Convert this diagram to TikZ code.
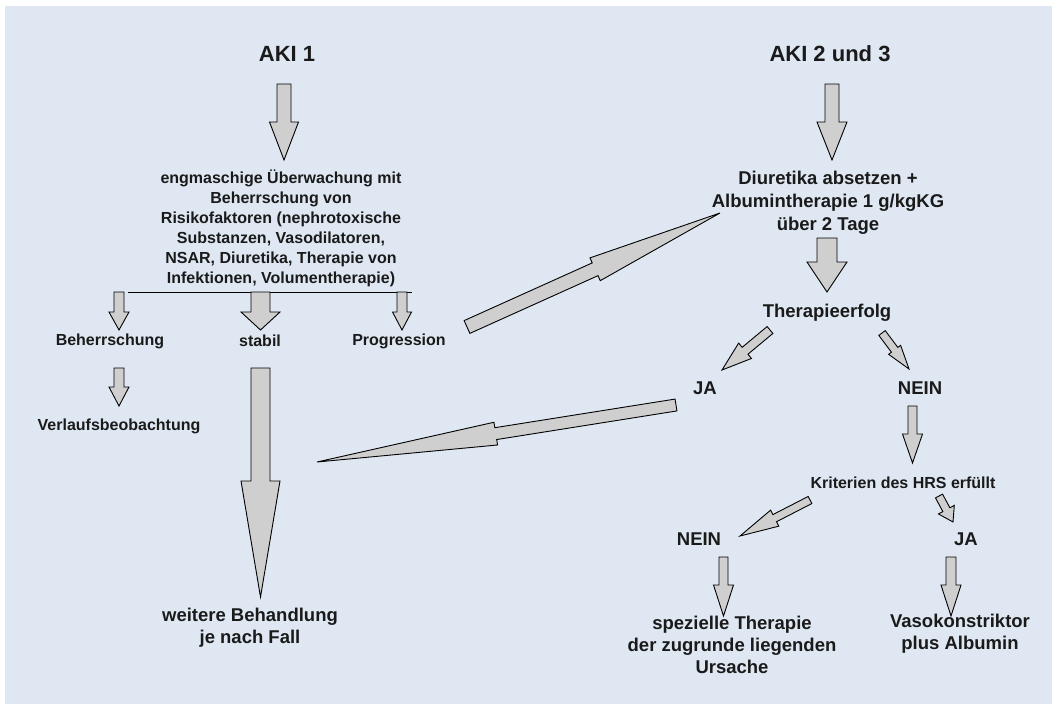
\documentclass[tikz,border=0pt]{standalone}
\usepackage{fontspec}
\setmainfont{Liberation Sans}
\usepackage{tikz}
\usetikzlibrary{calc}
\definecolor{bgblue}{RGB}{223,232,242}
\definecolor{arrowgray}{RGB}{207,207,207}
\definecolor{textblack}{RGB}{26,26,26}
\newcommand{\blockarrow}[5]{%
  \coordinate (ba-base) at ($(#2)!#5!(#1)$);
  \draw[fatarrow] ($(#1)!#3!90:(#2)$) -- ($(ba-base)!#3!90:(#2)$) -- ($(ba-base)!#4!90:(#2)$) -- (#2)
    -- ($(ba-base)!#4!-90:(#2)$) -- ($(ba-base)!#3!-90:(#2)$) -- ($(#1)!#3!-90:(#2)$) -- cycle;
}
\tikzset{
  lbl/.style={font=\bfseries\fontsize{18.5}{22}\selectfont, text=textblack, inner sep=0pt, align=center},
  lblwide/.style={lbl, font=\bfseries\fontsize{18.5}{23}\selectfont},
  lblsmall/.style={lbl, font=\bfseries\fontsize{16}{20}\selectfont},
  lblbig/.style={lbl, font=\bfseries\fontsize{22}{26}\selectfont},
  fatarrow/.style={draw=black, fill=arrowgray, line width=0.9pt, line join=miter},
}
\begin{document}
\begin{tikzpicture}[x=1pt,y=1pt]
                    \useasboundingbox (0,0) rectangle (1052,-704);
                    \fill [bgblue] (5,-6) rectangle (1052,-704);
                    \node [lblbig] (aki1) at (287,-54) {AKI 1};
                    \node [lblbig] (aki23) at (830,-54) {AKI 2 und 3};
                    \node [lblsmall] (ueberw) at (281,-228) {engmaschige Überwachung mit\\Beherrschung von\\Risikofaktoren (nephrotoxische\\Substanzen, Vasodilatoren,\\NSAR, Diuretika, Therapie von\\Infektionen, Volumentherapie)};
                    \node [lblsmall] (beherr) at (110,-341) {Beherrschung};
                    \node [lblsmall] (stabil) at (260,-341) {stabil};
                    \node [lblsmall] (progr) at (399,-341) {Progression};
                    \node [lblsmall] (verlauf) at (119,-426) {Verlaufsbeobachtung};
                    \node [lbl] (weitere) at (250,-628) {weitere Behandlung\\je nach Fall};
                    \node [lblwide] (diuret) at (828,-203) {Diuretika absetzen +\\Albumintherapie 1 g/kgKG\\über 2 Tage};
                    \node [lbl] (erfolg) at (827,-313) {Therapieerfolg};
                    \node [lbl] (ja1) at (705,-388) {JA};
                    \node [lbl] (nein1) at (920,-388) {NEIN};
                    \node [lblsmall] (hrs) at (903,-483) {Kriterien des HRS erfüllt};
                    \node [lbl] (nein2) at (699,-539) {NEIN};
                    \node [lbl] (ja2) at (966,-539) {JA};
                    \node [lbl] (spez) at (732,-645) {spezielle Therapie\\der zugrunde liegenden\\Ursache};
                    \node [lbl] (vaso) at (960,-634) {Vasokonstriktor\\plus Albumin};
                    \coordinate (a1t) at (284,-84);
                    \coordinate (a1h) at (284,-160);
                    \coordinate (a2t) at (832,-84);
                    \coordinate (a2h) at (832,-160);
                    \coordinate (dt) at (827,-238);
                    \coordinate (dh) at (827,-292);
                    \coordinate (brl) at (128,-292);
                    \coordinate (brr) at (412,-292);
                    \coordinate (b1t) at (119,-292);
                    \coordinate (b1h) at (119,-330);
                    \coordinate (b2t) at (260.5,-292);
                    \coordinate (b2h) at (260.5,-330);
                    \coordinate (b3t) at (402,-292);
                    \coordinate (b3h) at (402,-330);
                    \coordinate (b4t) at (119,-368);
                    \coordinate (b4h) at (119,-406);
                    \coordinate (st) at (260.5,-368);
                    \coordinate (sh) at (260.5,-597);
                    \coordinate (prt) at (467,-327);
                    \coordinate (prh) at (720,-213);
                    \coordinate (jt) at (676,-405);
                    \coordinate (jh) at (317,-462);
                    \coordinate (e1t) at (770,-330);
                    \coordinate (e1h) at (722,-370);
                    \coordinate (e2t) at (882,-333);
                    \coordinate (e2h) at (909,-369);
                    \coordinate (nt) at (912.5,-406);
                    \coordinate (nh) at (912.5,-463);
                    \coordinate (k1t) at (810,-500);
                    \coordinate (k1h) at (740,-536);
                    \coordinate (k2t) at (939,-496);
                    \coordinate (k2h) at (953,-522);
                    \coordinate (n2t) at (723.5,-557);
                    \coordinate (n2h) at (723.5,-616);
                    \coordinate (j2t) at (951,-557);
                    \coordinate (j2h) at (951,-616);
                    \blockarrow{a1t}{a1h}{7pt}{14.5pt}{38pt}
                    \blockarrow{a2t}{a2h}{7pt}{15pt}{38pt}
                    \blockarrow{dt}{dh}{10pt}{20pt}{30pt}
                    \draw [black, line width=0.9pt] (brl) -- (brr);
                    \blockarrow{b1t}{b1h}{5pt}{10pt}{18pt}
                    \blockarrow{b2t}{b2h}{9.5pt}{19.5pt}{18pt}
                    \blockarrow{b3t}{b3h}{5pt}{9.5pt}{18pt}
                    \blockarrow{b4t}{b4h}{5pt}{10pt}{19pt}
                    \blockarrow{st}{sh}{9.5pt}{19.5pt}{116pt}
                    \blockarrow{prt}{prh}{7pt}{12.5pt}{137pt}
                    \blockarrow{jt}{jh}{6pt}{11.5pt}{181pt}
                    \blockarrow{e1t}{e1h}{4.5pt}{10pt}{30pt}
                    \blockarrow{e2t}{e2h}{4pt}{7.5pt}{24pt}
                    \blockarrow{nt}{nh}{4.5pt}{10pt}{29pt}
                    \blockarrow{k1t}{k1h}{4pt}{9pt}{39pt}
                    \blockarrow{k2t}{k2h}{4pt}{9pt}{14pt}
                    \blockarrow{n2t}{n2h}{4.5pt}{10pt}{31pt}
                    \blockarrow{j2t}{j2h}{5pt}{10pt}{31pt}
                \end{tikzpicture}
\end{document}
